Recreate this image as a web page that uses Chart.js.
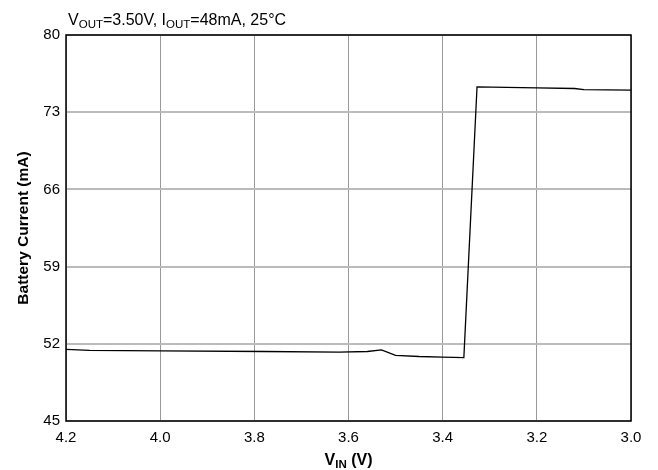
<!DOCTYPE html>
<html>
<head>
<meta charset="utf-8">
<script src="https://cdn.jsdelivr.net/npm/chart.js@4.4.0/dist/chart.umd.min.js"></script>
<style>
  html, body { margin: 0; padding: 0; background: #fff; }
  #wrap { width: 658px; height: 470px; }
</style>
</head>
<body>
<div id="wrap"><canvas id="mycanvas" width="658" height="470"></canvas></div>
<script>
// supply voltage (V) and battery current (mA)
var vin = [4.20, 4.15, 4.00, 3.78, 3.62, 3.56, 3.53, 3.50, 3.45, 3.40, 3.355, 3.327, 3.20, 3.12, 3.10, 3.00];
var ibat = [51.5, 51.4, 51.35, 51.3, 51.25, 51.3, 51.45, 50.95, 50.85, 50.8, 50.75, 75.3, 75.2, 75.15, 75.05, 75.0];
var yTicks = [45, 52, 59, 66, 73, 80];
var xTicks = [4.2, 4.0, 3.8, 3.6, 3.4, 3.2, 3.0];

var pts = [];
for (var i in vin) {
	pts.push({x: vin[i], y: ibat[i]});
}

var FONT = "'Liberation Sans', Arial, sans-serif";

// draws text with a subscript part, parts = [[text, isSub], ...]
function drawSub(ctx, parts, x, y, size, bold, align) {
	var w = 0;
	var b = bold ? 'bold ' : '';
	parts.forEach(function(p) {
		ctx.font = b + (p[1] ? size * 0.72 : size) + 'px ' + FONT;
		w += ctx.measureText(p[0]).width;
	});
	var cx = align === 'center' ? x - w / 2 : x;
	ctx.textAlign = 'left';
	ctx.textBaseline = 'alphabetic';
	parts.forEach(function(p) {
		ctx.font = b + (p[1] ? size * 0.72 : size) + 'px ' + FONT;
		ctx.fillText(p[0], cx, p[1] ? y + size * 0.2 : y);
		cx += ctx.measureText(p[0]).width;
	});
}

var labels = {
	id: 'labels',
	afterDraw: function(chart) {
		var ctx = chart.ctx;
		var a = chart.chartArea;
		ctx.save();
		ctx.fillStyle = '#000';
		drawSub(ctx, [['V', 0], ['OUT', 1], ['=3.50V, I', 0], ['OUT', 1], ['=48mA, 25°C', 0]], a.left + 2, 25, 16, false, 'left');
		drawSub(ctx, [['V', 0], ['IN', 1], [' (V)', 0]], (a.left + a.right) / 2, 465, 16, true, 'center');
		// plot frame
		ctx.strokeStyle = '#000';
		ctx.lineWidth = 1.5;
		ctx.strokeRect(a.left, a.top, a.right - a.left, a.bottom - a.top);
		ctx.restore();
	}
};

var ctx = document.getElementById('mycanvas');

var chart = new Chart(ctx, {
	type: 'scatter',
	data: {
		datasets: [{
			data: pts,
			showLine: true,
			borderColor: '#000',
			borderWidth: 1.3,
			pointRadius: 0,
			tension: 0,
			fill: false
		}]
	},
	options: {
		responsive: false,
		animation: false,
		devicePixelRatio: 1,
		layout: { padding: { top: 35, right: 27, left: 14, bottom: 0 } },
		plugins: { legend: { display: false }, tooltip: { enabled: false } },
		scales: {
			x: {
				type: 'linear',
				reverse: true,
				min: 3.0,
				max: 4.2,
				afterFit: function(s) { s.height = 49; },
				afterBuildTicks: function(s) { s.ticks = xTicks.map(function(v) { return {value: v}; }); },
				ticks: {
					color: '#000',
					padding: 8,
					maxRotation: 0,
					font: { family: FONT, size: 15 },
					callback: function(v) { return v.toFixed(1); }
				},
				grid: { color: '#999', lineWidth: 1, drawTicks: false },
				border: { display: false }
			},
			y: {
				min: 45,
				max: 80,
				afterFit: function(s) { s.width = 52; },
				afterBuildTicks: function(s) { s.ticks = yTicks.map(function(v) { return {value: v}; }); },
				ticks: {
					color: '#000',
					padding: 6,
					font: { family: FONT, size: 15 }
				},
				title: {
					display: true,
					text: 'Battery Current (mA)',
					color: '#000',
					padding: { top: 0, bottom: 2 },
					font: { family: FONT, size: 15.5, weight: 'bold' }
				},
				grid: { color: '#bbb', lineWidth: 2, drawTicks: false },
				border: { display: false }
			}
		}
	},
	plugins: [labels]
});
</script>
</body>
</html>
